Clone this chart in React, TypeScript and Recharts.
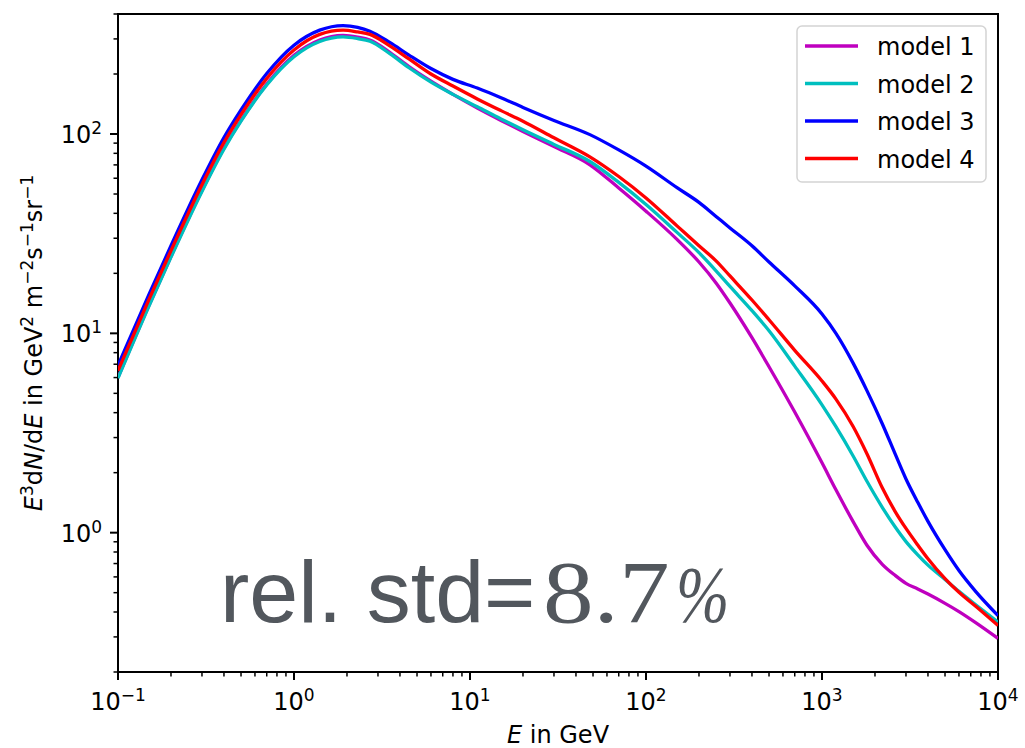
import React from 'react';
import { LineChart, Line, XAxis, YAxis, ReferenceArea, Legend, Label } from 'recharts';

// Energy grid in GeV
const energies = [
  0.1, 0.15, 0.2, 0.3, 0.4, 0.5, 0.7, 1, 1.4, 1.9, 2.3, 2.7, 3.5, 4.5, 6, 8, 11, 15, 20, 30, 48, 70,
  100, 150, 200, 250, 300, 400, 500, 700, 1000, 1200, 1500, 1800, 2200, 2600, 3000, 3500, 4000, 5000,
  6000, 7500, 10000,
];

// E^3 dN/dE for each propagation model
const model1 = [
  6.0, 13.8, 24.3, 52, 84.8, 117, 178, 248, 296, 312, 306, 296, 257, 218, 184, 158, 135, 117, 103,
  86.5, 70.1, 53.6, 41.0, 29.6, 22.8, 17.9, 14.2, 9.51, 6.8, 4.03, 2.24, 1.64, 1.14, 0.865, 0.694,
  0.611, 0.557, 0.522, 0.492, 0.442, 0.402, 0.353, 0.295,
];
const model2 = [
  5.96, 13.7, 24.1, 51.5, 83.9, 116, 176, 244, 291, 307, 301, 292, 253, 215, 182, 158, 137, 119, 105,
  88.7, 72.8, 57.2, 44.3, 32.1, 25.4, 20.6, 17.2, 13.0, 10.3, 6.85, 4.38, 3.4, 2.43, 1.81, 1.34, 1.07,
  0.902, 0.774, 0.687, 0.582, 0.508, 0.434, 0.356,
];
const model3 = [
  6.9, 15.7, 27.5, 58.9, 95.9, 132, 201, 279, 332, 350, 343, 328, 288, 249, 213, 188, 170, 152, 136,
  117, 99.3, 83.2, 69.0, 53.8, 45.4, 38.6, 33.8, 27.5, 22.8, 17.3, 12.5, 10.0, 7.11, 5.16, 3.52, 2.49,
  1.86, 1.42, 1.14, 0.822, 0.646, 0.505, 0.384,
];
const model4 = [
  6.5, 14.8, 26.0, 55.7, 90.6, 125, 190, 264, 316, 332, 325, 316, 277, 238, 200, 174, 150, 131, 116,
  95.7, 76.8, 61.2, 47.8, 34.6, 27.5, 23.1, 19.4, 14.7, 11.7, 8.22, 5.77, 4.68, 3.42, 2.49, 1.68, 1.28,
  1.05, 0.867, 0.74, 0.588, 0.502, 0.426, 0.342,
];

const seriesKeys = ['m1', 'm2', 'm3', 'm4'];
const seriesNames = ['model 1', 'model 2', 'model 3', 'model 4'];
const seriesColors = ['#bf00bf', '#00bfbf', '#0000ff', '#ff0000'];

// Axis decades and their exponent labels
const xDecades = [0.1, 1, 10, 100, 1000, 10000];
const xExponents = ['\u22121', '0', '1', '2', '3', '4'];
const yDecades = [0.1, 1, 10, 100];
const yExponents = ['\u22121', '0', '1', '2'];
const minorMultipliers = [2, 3, 4, 5, 6, 7, 8, 9];

const X_MIN = 0.1;
const X_MAX = 10000;
const Y_MIN = 0.2;
const Y_MAX = 400;

const FONT = "'DejaVu Sans', sans-serif";
const NOTE_COLOR = '#52575d';

const data = energies.map((e, i) => ({
  E: e,
  m1: model1[i],
  m2: model2[i],
  m3: model3[i],
  m4: model4[i],
}));

function logTicks(decades: number[], lo: number, hi: number) {
  const out: number[] = [];
  decades.forEach((d) => {
    [1, ...minorMultipliers].forEach((m) => {
      const v = d * m;
      if (v >= lo * 0.999 && v <= hi * 1.001) out.push(v);
    });
  });
  return out;
}

const xTicks = logTicks(xDecades, X_MIN, X_MAX);
const yTicks = logTicks(yDecades, Y_MIN, Y_MAX);

function decadeIndex(list: number[], v: number) {
  return list.findIndex((d) => Math.abs(d - v) < d * 1e-6);
}

const XTick = (props: any) => {
  const { x, y, payload } = props;
  const idx = decadeIndex(xDecades, payload.value);
  const major = idx >= 0;
  return (
    <g>
      <line x1={x} y1={y} x2={x} y2={y + (major ? 8 : 4.5)} stroke="#000" strokeWidth={major ? 2 : 1.5} />
      {major && (
        <text x={x} y={y + 38} textAnchor="middle" fontSize={24} fontFamily={FONT} fill="#000">
          10
          <tspan dy={-9} fontSize={17}>
            {xExponents[idx]}
          </tspan>
        </text>
      )}
    </g>
  );
};

const YTick = (props: any) => {
  const { x, y, payload } = props;
  const idx = decadeIndex(yDecades, payload.value);
  const major = idx >= 0;
  return (
    <g>
      <line x1={x} y1={y} x2={x - (major ? 8 : 4.5)} y2={y} stroke="#000" strokeWidth={major ? 2 : 1.5} />
      {major && (
        <text x={x - 16} y={y + 9} textAnchor="end" fontSize={24} fontFamily={FONT} fill="#000">
          10
          <tspan dy={-9} fontSize={17}>
            {yExponents[idx]}
          </tspan>
        </text>
      )}
    </g>
  );
};

const XAxisTitle = (props: any) => {
  const vb = props.viewBox || { x: 118, y: 672, width: 880 };
  const cx = vb.x + vb.width / 2;
  const cy = vb.y + 71;
  return (
    <text x={cx} y={cy} textAnchor="middle" fontSize={24} fontFamily={FONT} fill="#000">
      <tspan fontStyle="italic">E</tspan>
      <tspan>{' in GeV'}</tspan>
    </text>
  );
};

const YAxisTitle = (props: any) => {
  const vb = props.viewBox || { x: 58, y: 14, width: 60, height: 658 };
  const cx = vb.x - 16;
  const cy = vb.y + vb.height / 2;
  const sup = { dy: -9, fontSize: 17 };
  return (
    <text
      x={cx}
      y={cy}
      transform={`rotate(-90 ${cx} ${cy})`}
      textAnchor="middle"
      fontSize={24}
      fontFamily={FONT}
      fill="#000"
    >
      <tspan fontStyle="italic">E</tspan>
      <tspan {...sup}>3</tspan>
      <tspan dy={9}>d</tspan>
      <tspan fontStyle="italic">N</tspan>
      <tspan>/d</tspan>
      <tspan fontStyle="italic">E</tspan>
      <tspan>{' in GeV'}</tspan>
      <tspan {...sup}>2</tspan>
      <tspan dy={9}>{' m'}</tspan>
      <tspan {...sup}>{'\u22122'}</tspan>
      <tspan dy={9}>s</tspan>
      <tspan {...sup}>{'\u22121'}</tspan>
      <tspan dy={9}>sr</tspan>
      <tspan {...sup}>{'\u22121'}</tspan>
    </text>
  );
};

const LegendBox = (props: any) => {
  const items: any[] = props.payload || [];
  return (
    <svg width={192} height={159} style={{ display: 'block' }}>
      <rect x={1} y={1} width={189} height={156} rx={5} ry={5} fill="rgba(255,255,255,0.8)" stroke="#d4d4d4" strokeWidth={1.5} />
      {items.map((it, i) => {
        const cy = 21 + i * 37.5;
        return (
          <g key={it.value}>
            <line x1={9} y1={cy} x2={62} y2={cy} stroke={it.color} strokeWidth={3.3} />
            <text x={81} y={cy + 9} fontSize={24} fontFamily={FONT} fill="#000">
              {it.value}
            </text>
          </g>
        );
      })}
    </svg>
  );
};

const serifStyle = { fontFamily: '"Liberation Serif", "DejaVu Serif", serif' };

export default function App() {
  return (
    <div style={{ position: 'absolute', left: 0, top: 0, width: 1025, height: 748, background: '#fff' }}>
      <LineChart width={1025} height={748} data={data} margin={{ top: 14, right: 27, bottom: 36, left: 58 }}>
        <XAxis
          dataKey="E"
          type="number"
          scale="log"
          domain={[X_MIN, X_MAX]}
          allowDataOverflow
          ticks={xTicks}
          interval={0}
          tick={<XTick />}
          tickLine={false}
          tickSize={0}
          tickMargin={0}
          axisLine={false}
          height={40}
        >
          <Label content={<XAxisTitle />} />
        </XAxis>
        <YAxis
          type="number"
          scale="log"
          domain={[Y_MIN, Y_MAX]}
          allowDataOverflow
          ticks={yTicks}
          interval={0}
          tick={<YTick />}
          tickLine={false}
          tickSize={0}
          tickMargin={0}
          axisLine={false}
          width={60}
        >
          <Label content={<YAxisTitle />} />
        </YAxis>
        {seriesKeys.map((k, i) => (
          <Line
            key={k}
            dataKey={k}
            name={seriesNames[i]}
            type="monotone"
            stroke={seriesColors[i]}
            strokeWidth={3.3}
            dot={false}
            activeDot={false}
            isAnimationActive={false}
          />
        ))}
        <ReferenceArea
          x1={X_MIN}
          x2={X_MAX}
          y1={Y_MIN}
          y2={Y_MAX}
          fill="none"
          fillOpacity={0}
          stroke="#000"
          strokeWidth={2}
          ifOverflow="visible"
        />
        <Legend
          layout="vertical"
          align="center"
          verticalAlign="middle"
          content={<LegendBox />}
          wrapperStyle={{ left: 796, top: 25, width: 192, height: 159 }}
        />
      </LineChart>
      <svg
        width={1025}
        height={748}
        style={{ position: 'absolute', left: 0, top: 0, pointerEvents: 'none' }}
      >
        <text
          x={220}
          y={622}
          fill={NOTE_COLOR}
          style={{ fontFamily: '"Liberation Sans", Arial, sans-serif', fontSize: 88 }}
        >
          rel. std=
        </text>
        <text
          transform="translate(543 622) scale(1.15 1)"
          x={0}
          y={0}
          fill={NOTE_COLOR}
          style={{ ...serifStyle, fontSize: 88 }}
        >
          8.7
        </text>
        <text
          transform="translate(676 622) scale(0.8 1)"
          x={0}
          y={0}
          fill={NOTE_COLOR}
          style={{ ...serifStyle, fontSize: 80, fontStyle: 'italic' }}
        >
          %
        </text>
      </svg>
    </div>
  );
}
